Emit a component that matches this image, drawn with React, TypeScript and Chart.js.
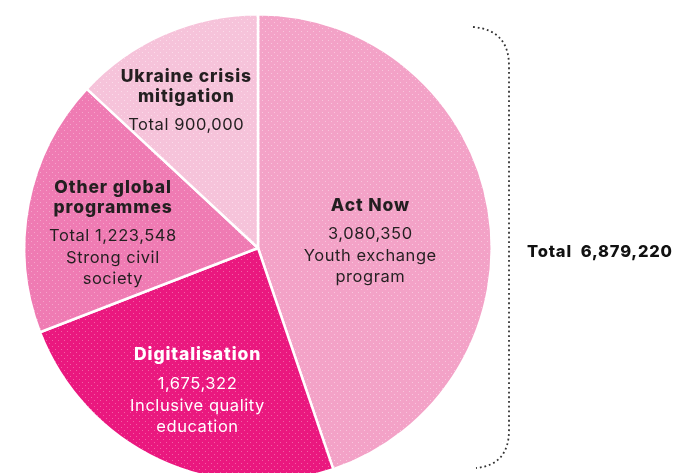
import React, { useEffect, useRef } from "react";
import { Chart, registerables } from "chart.js";

Chart.register(...registerables);

const categories = ["Act Now", "Digitalisation", "Other global programmes", "Ukraine crisis mitigation"];
const values = [3080350, 1675322, 1223548, 900000];
const titleLines = [["Act Now"], ["Digitalisation"], ["Other global", "programmes"], ["Ukraine crisis", "mitigation"]];
const detailLines = [
  ["3,080,350", "Youth exchange", "program"],
  ["1,675,322", "Inclusive quality", "education"],
  ["Total 1,223,548", "Strong civil", "society"],
  ["Total 900,000"],
];
const totalLabel = "Total  6,879,220";

const baseColors = ["#f3a2c7", "#ea187f", "#ef7bb3", "#f6c3da"];
const dotColors = ["#f8c6dd", "#f261a4", "#f5a5cb", "#fbdcea"];
const textColors = ["#231f20", "#ffffff", "#231f20", "#231f20"];
// label placement: radial fraction, angular offset (deg)
const labelFrac = [0.48, 0.665, 0.625, 0.7];
const labelAngleOffset = [6, -2, -5.3, -2.6];

function makePattern(base: string, dot: string): CanvasPattern | string {
  const c = document.createElement("canvas");
  c.width = 6;
  c.height = 6;
  const g = c.getContext("2d");
  if (!g) return base;
  g.fillStyle = base;
  g.fillRect(0, 0, 6, 6);
  g.fillStyle = dot;
  g.fillRect(1, 1, 1, 1);
  g.fillRect(4, 4, 1, 1);
  const p = g.createPattern(c, "repeat");
  return p || base;
}

const FONT = "Inter, 'Open Sans', sans-serif";

function setSpacing(ctx: any, px: number) {
  if ("letterSpacing" in ctx) ctx.letterSpacing = `${px}px`;
}

const labelPlugin = {
  id: "sliceLabels",
  afterDraw(chart: any) {
    const ctx = chart.ctx as CanvasRenderingContext2D;
    const meta = chart.getDatasetMeta(0);
    ctx.save();
    ctx.textAlign = "center";
    ctx.textBaseline = "middle";
    meta.data.forEach((arc: any, i: number) => {
      const mid = (arc.startAngle + arc.endAngle) / 2 + (labelAngleOffset[i] * Math.PI) / 180;
      const r = arc.outerRadius * labelFrac[i];
      const cx = arc.x + Math.cos(mid) * r;
      const cy = arc.y + Math.sin(mid) * r;
      const titles = titleLines[i];
      const details = detailLines[i];
      const titleLH = 19.5;
      const gap = 29;
      const detailLH = 21.5;
      const total = (titles.length - 1) * titleLH + gap + (details.length - 1) * detailLH;
      let y = cy - total / 2;
      ctx.fillStyle = textColors[i];
      ctx.font = `800 17.5px ${FONT}`;
      setSpacing(ctx, 0.9);
      titles.forEach((t, k) => {
        ctx.fillText(t, cx + 0.45, y + k * titleLH);
      });
      y += (titles.length - 1) * titleLH + gap;
      ctx.font = `16.5px ${FONT}`;
      setSpacing(ctx, 0.55);
      details.forEach((t, k) => {
        ctx.fillText(t, cx + 0.3, y + k * detailLH);
      });
    });
    setSpacing(ctx, 0);

    // dotted bracket
    ctx.strokeStyle = "#333333";
    ctx.lineWidth = 1.8;
    ctx.setLineDash([1.8, 2.9]);
    ctx.beginPath();
    ctx.moveTo(473, 27);
    ctx.quadraticCurveTo(509, 30, 509, 66);
    ctx.lineTo(509, 430);
    ctx.quadraticCurveTo(509, 465, 476, 468);
    ctx.stroke();
    ctx.setLineDash([]);

    ctx.fillStyle = "#111111";
    ctx.font = `800 16.5px ${FONT}`;
    setSpacing(ctx, 0.8);
    ctx.textAlign = "left";
    ctx.fillText(totalLabel, 527, 252);
    setSpacing(ctx, 0);
    ctx.restore();
  },
};

export default function App() {
  const ref = useRef<HTMLCanvasElement | null>(null);
  useEffect(() => {
    document.body.style.margin = "0";
    if (!ref.current) return;
    const bg = baseColors.map((b, i) => makePattern(b, dotColors[i]));
    const chart = new Chart(ref.current, {
      type: "pie",
      data: {
        labels: categories,
        datasets: [
          {
            data: values,
            backgroundColor: bg as any,
            borderColor: "#ffffff",
            borderWidth: 2.5,
          },
        ],
      },
      options: {
        responsive: false,
        animation: false,
        layout: { padding: { left: 23, right: 181, top: 13, bottom: 17 } },
        plugins: { legend: { display: false }, tooltip: { enabled: false } },
      },
      plugins: [labelPlugin],
    });
    return () => chart.destroy();
  }, []);
  return (
    <div style={{ position: "absolute", left: 0, top: 0, width: 674, height: 473, overflow: "hidden", background: "#fff" }}>
      <canvas ref={ref} width={674} height={500} />
    </div>
  );
}
